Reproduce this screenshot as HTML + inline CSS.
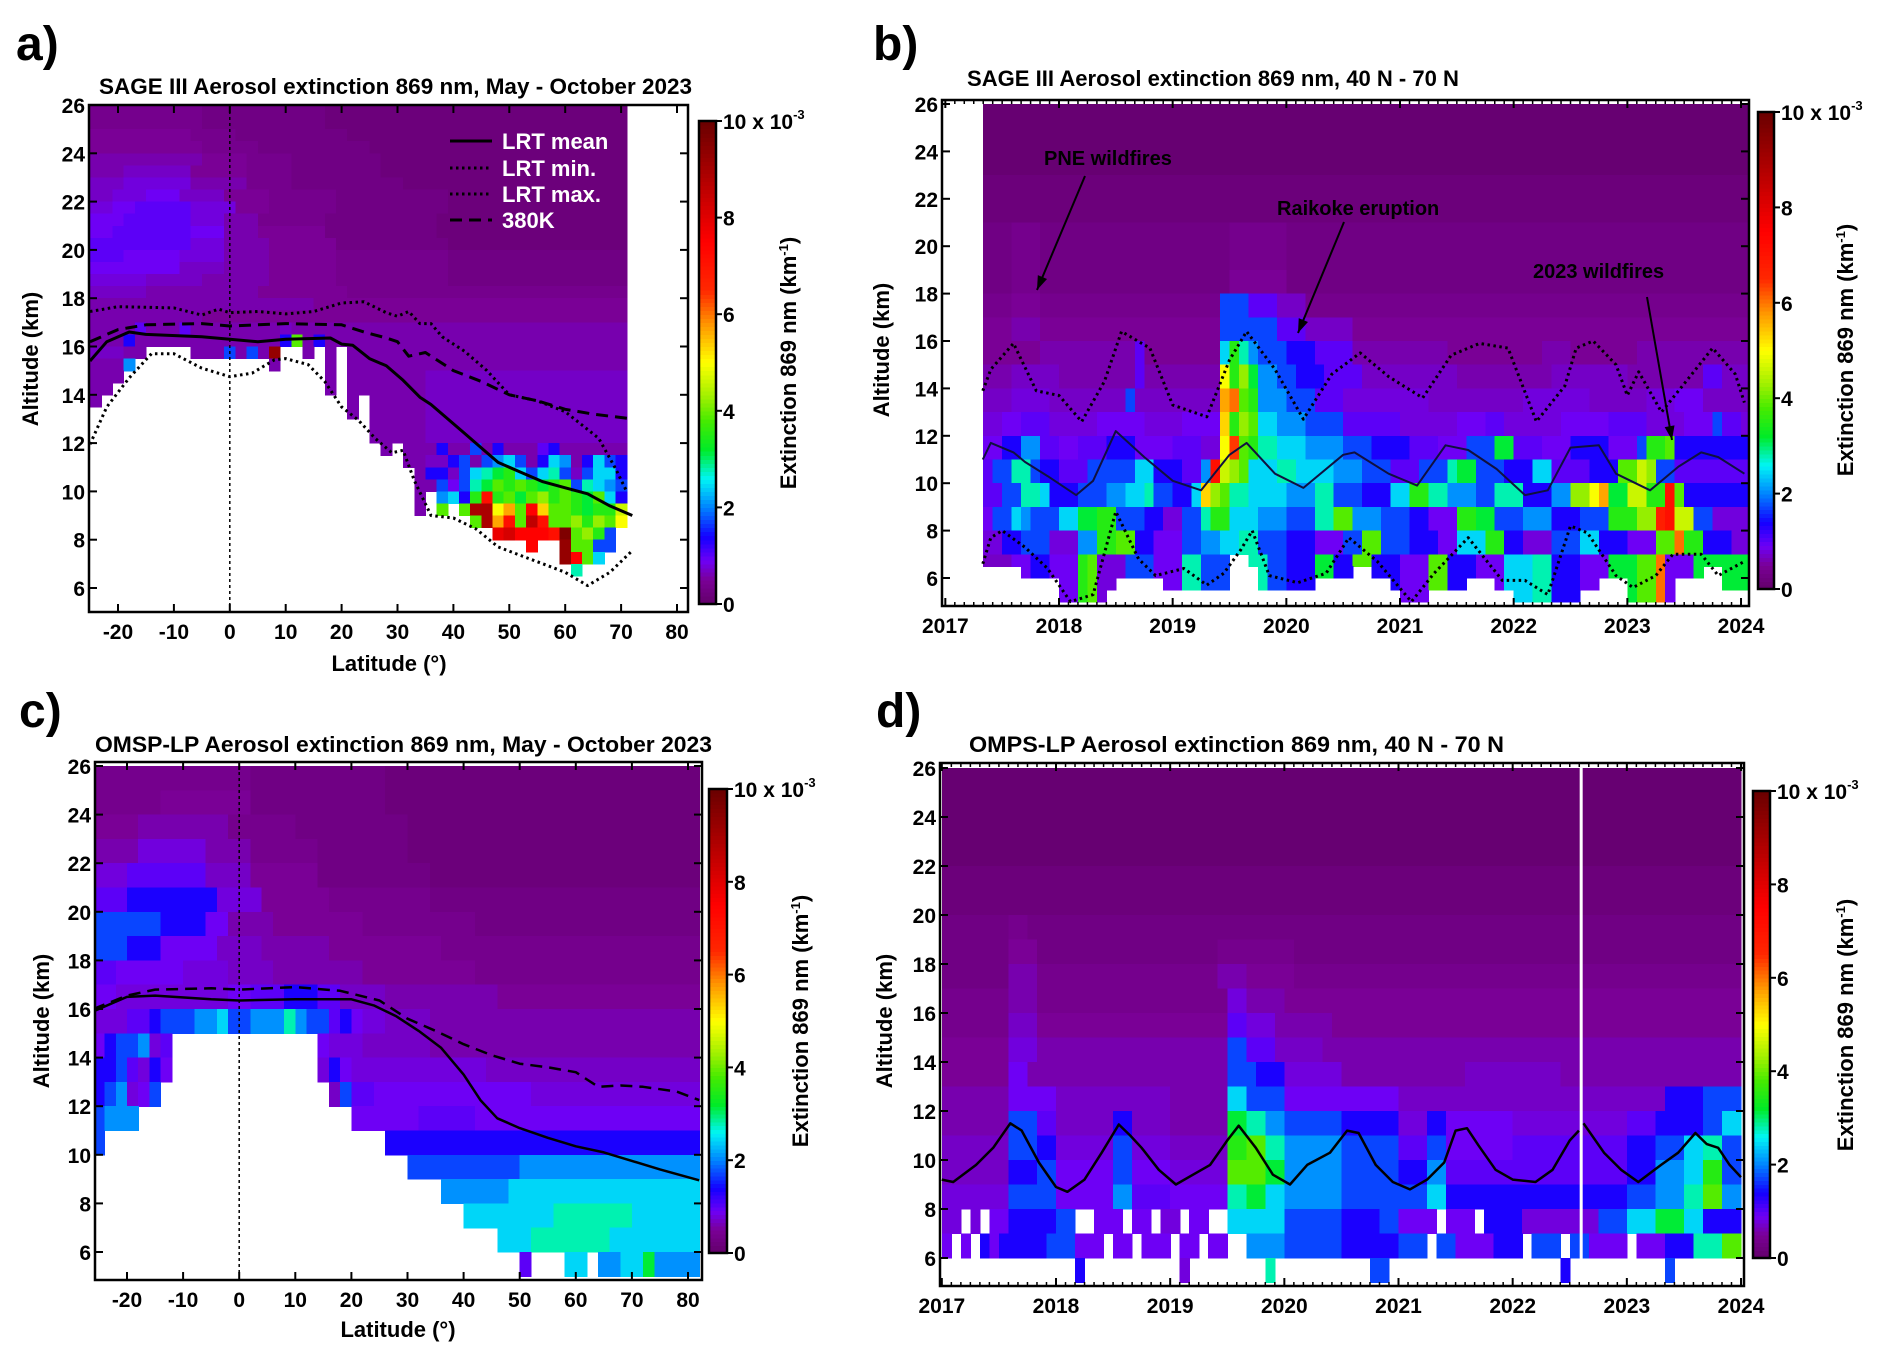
<!DOCTYPE html>
<html><head><meta charset="utf-8"><title>Aerosol extinction panels</title>
<style>
html,body{margin:0;padding:0;background:#fff;}
svg{display:block;font-family:"Liberation Sans",Arial,sans-serif;font-weight:bold;}
</style></head>
<body>
<svg id="fig" width="1892" height="1360" viewBox="0 0 1892 1360" xmlns="http://www.w3.org/2000/svg">
<defs>
<clipPath id="clipA"><rect x="89" y="105" width="599" height="507"/></clipPath>
<clipPath id="clipB"><rect x="942" y="100" width="807" height="506"/></clipPath>
<clipPath id="clipC"><rect x="95" y="762" width="607" height="518"/></clipPath>
<clipPath id="clipD"><rect x="940" y="763" width="804" height="523"/></clipPath>
</defs>
<text x="16" y="60" font-size="48">a)</text>
<text x="873" y="60" font-size="48">b)</text>
<text x="19" y="727" font-size="48">c)</text>
<text x="876" y="727" font-size="48">d)</text>
<text x="99" y="94" font-size="22" textLength="593" lengthAdjust="spacingAndGlyphs">SAGE III Aerosol extinction 869 nm, May - October 2023</text>
<text x="967" y="86" font-size="22" textLength="492" lengthAdjust="spacingAndGlyphs">SAGE III Aerosol extinction 869 nm, 40 N - 70 N</text>
<text x="95" y="752" font-size="22" textLength="617" lengthAdjust="spacingAndGlyphs">OMSP-LP Aerosol extinction 869 nm, May - October 2023</text>
<text x="969" y="752" font-size="22" textLength="535" lengthAdjust="spacingAndGlyphs">OMPS-LP Aerosol extinction 869 nm, 40 N - 70 N</text>
<text transform="translate(38,359) rotate(-90)" text-anchor="middle" font-size="22">Altitude (km)</text>
<text transform="translate(889,350) rotate(-90)" text-anchor="middle" font-size="22">Altitude (km)</text>
<text transform="translate(49,1021) rotate(-90)" text-anchor="middle" font-size="22">Altitude (km)</text>
<text transform="translate(892,1021) rotate(-90)" text-anchor="middle" font-size="22">Altitude (km)</text>
<text x="389" y="671" text-anchor="middle" font-size="22">Latitude (°)</text>
<text x="398" y="1337" text-anchor="middle" font-size="22">Latitude (°)</text>
<text transform="translate(796,363) rotate(-90)" text-anchor="middle" font-size="22">Extinction 869 nm (km<tspan font-size="13" dy="-8">-1</tspan><tspan dy="8">)</tspan></text>
<text transform="translate(1853,350) rotate(-90)" text-anchor="middle" font-size="22">Extinction 869 nm (km<tspan font-size="13" dy="-8">-1</tspan><tspan dy="8">)</tspan></text>
<text transform="translate(808,1021) rotate(-90)" text-anchor="middle" font-size="22">Extinction 869 nm (km<tspan font-size="13" dy="-8">-1</tspan><tspan dy="8">)</tspan></text>
<text transform="translate(1853,1025) rotate(-90)" text-anchor="middle" font-size="22">Extinction 869 nm (km<tspan font-size="13" dy="-8">-1</tspan><tspan dy="8">)</tspan></text>
<g id="layer"></g>
</svg>
<script>
// ---------- DATA ----------
// value key: '.'=no data, digits 0-9 => 0.0-0.9, letters a..z => 1.0..10 (x1e-3 km-1)
const rowsA = [
"4*10 3*11 2*27","4*10 3*11 2*27","5*9 4*4 3*10 2*25","5*10 4*5 3*10 2*23",
"6*10 5*4 4*4 3*8 2*22","6*3 7*6 5*5 4*4 3*8 2*22","7*3 8*6 6*5 4*4 3*10 2*20",
"7*2 8*3 9*3 7*4 5*4 4*6 3*10 2*16","8*2 9*2 a*5 8*4 5*3 4*6 3*10 2*16",
"9*3 a*6 8*3 6*3 4*6 3*10 2*17","9*2 a*7 9*3 6*3 5*6 3*10 2*17","a*3 a*6 8*3 6*4 5*6 3*10 2*16",
"a*3 9*5 8*4 6*4 5*6 4*10 3*16","9*4 9*4 7*4 6*4 5*6 4*10 3*16","8*5 7*5 6*6 5*6 4*10 3*16",
"7*5 6*10 5*8 4*25","6*20 5*28","6*10 5*38","6*4 a 6*3 a 6*8 7 6*30",
"6*3 b 6*13 b i 6 b 6*27","7*3 6*9 c 6 c 6 x 6*31","6*3 d 6*44",
"6*30 7*18","6*30 7*18","6*30 7*18","6*30 7*18","6*30 7*18","6*30 7*18",
"6*31 b 6*2 c 6 b 6*3 a b 6*6",
"6*30 7 7 b c 6 c d e c 6 b e d 6 b e c b",
"6*30 b b 7 c e f g h e c e f c 7 c e e b",
"6*30 6 c 9 c f g i h i h g h i c f e d c",
"6*30 6 d e b h r h i g i j h i h g i e b",
"6*30 g i . i w w l n i s m i i h g h h k",
"6*30 . . k . i w n r i v r i i j h j i l",
"6*30 . . . . . i t u s s s r y i j h c .",
"6*30 . . . . . . . . j s . . x i i c c .",
"6*30 . . . . . . . . . . i . x s i e i .",
"6*30 . . . . . . . . . . . . . f . . . .",
".*48",".*48",".*48"];
const bottomA = [13.5,14,14.5,15,15.5,16,16,16,16,15.5,15.5,15.5,15.5,15.5,15.5,15.5,15,16,16,15.5,16,14,16,13,14,12,11.5,12,11,9,10,9,9.5,9,8.5,8.5,8,8,8,7,7.5,7,7,6.5,7,7,7.5,8];
const lrtMeanLatA = [-25,-22,-18,-15,-5,0,5,10,18,20,22,25,28,31,34,36,38,40,42,45,48,52,56,60,64,68,72];
const lrtMeanA = [15.4,16.2,16.6,16.5,16.4,16.3,16.2,16.3,16.35,16.1,16.05,15.5,15.2,14.6,13.9,13.6,13.2,12.8,12.4,11.8,11.2,10.8,10.4,10.15,9.9,9.4,9.0];
const k380LatA = [-25,-20,-15,-5,0,10,20,24,28,30,32,35,40,45,50,55,60,65,72];
const k380A = [16.2,16.7,16.9,16.95,16.85,16.95,16.9,16.6,16.35,16.2,15.6,15.75,15.0,14.55,14.0,13.75,13.4,13.2,13.0];
const lrtMaxLatA = [-25,-20,-10,-5,-2,0,5,10,15,20,24,28,30,32,34,36,38,42,46,50,55,60,63,66,69,71];
const lrtMaxA = [17.45,17.65,17.6,17.3,17.55,17.4,17.45,17.35,17.45,17.8,17.85,17.4,17.25,17.45,16.95,16.95,16.4,15.8,15.0,14.0,13.75,13.3,12.75,12.2,10.95,10.0];
const lrtMinLatA = [-25,-22,-18,-14,-10,-5,0,4,8,10,14,17,20,23,26,29,31,33,36,40,44,48,52,56,60,64,68,72];
const lrtMinA = [11.95,13.5,14.7,15.7,15.7,15.1,14.75,14.9,15.45,15.5,15.25,14.55,13.5,12.95,12.2,11.6,11.7,10.45,9.0,8.9,8.45,7.7,7.35,7.0,6.65,6.1,6.65,7.55];

const rowsB = [
"1*81","1*81","1*81","1*81","1*81","1*81","2*81","2*81","2*81","2*81",
"3*3 4*3 3*20 4*6 3*49","3*3 4*3 3*20 4*6 3*49","3*3 4*3 3*20 4*6 3*49","3*3 4*3 3*20 4*6 3*49",
"3*3 4*3 3*20 5*6 3*49","3*3 4*3 3*20 5*6 3*49",
"4*3 5*3 4*19 c*3 a*3 7*3 4*47","4*3 5*3 4*19 c*3 a*3 7*3 4*47",
"5*3 6*3 5*19 c*3 c*3 a*3 7*5 5*42","5*3 6*3 5*19 c*3 c*3 a*3 7*5 5*42",
"5*6 6*10 a 5*8 e h f d c*3 b*3 a*4 6*10 5*10 6*3 5*7 6*12",
"5*6 6*10 a 5*8 e h f d c*3 b*3 a*4 6*10 5*10 6*3 5*7 6*12",
"6*3 7*5 6*8 a 6*8 l h j g d*2 c*2 b*3 a*4 7*10 6*10 7*8 6*8 a*2 7*3",
"6*3 7*5 6*8 a 6*8 l h j g d*2 c*2 b*3 a*4 7*10 6*10 7*8 6*8 a*2 7*3",
"7*3 8*4 7*8 c 7*9 n o i h d*3 c*3 a*3 8*9 7*10 8*7 7*6 8*3 9*3 7*5",
"7*3 8*4 7*8 c 7*9 n o i h d*3 c*3 a*3 8*9 7*10 8*7 7*6 8*3 9*3 7*5",
"8*2 9*2 a*3 8*5 9*5 8*4 9*4 m h j i e*2 d*3 c*4 a*6 8*6 9*3 a*2 8*6 9*5 a*4 8*4 9*3 c a*2 8",
"8*2 9*2 a*3 8*5 9*5 8*4 9*4 m h j i e*2 d*3 c*4 a*6 8*6 9*3 a*2 8*6 9*5 a*4 8*4 9*3 c a*2 8",
"9*2 b*2 d*2 a*2 9*2 a*3 b*3 9*4 a*3 8*2 l p i h f*2 e*3 d*4 c*3 b*4 a*3 9*3 c*3 g*2 a*3 9*3 b*4 9*3 c h*2 i b",
"9*2 b*2 d*2 a*2 9*2 a*3 b*3 9*4 a*3 8*2 l p i h f*2 e*3 d*4 c*3 b*4 a*3 9*3 c*3 g*2 a*3 9*3 b*4 9*3 c h*2 i b",
"a c*2 f*2 c b*2 a*3 c*2 c*3 e*2 b*3 a*2 d r k j i e*3 f*2 e*4 d*3 c*3 a*3 c*3 f g*2 c*3 b*3 e*2 a*4 b*3 i*2 k j c*2 a*4",
"a c*2 f*2 c b*2 a*3 c*2 c*3 e*2 b*3 a*2 d r k j i e*3 f*2 e*4 d*3 c*3 a*3 c*3 f g*2 c*3 b*3 e*2 a*4 b*3 i*2 k j c*2 a*4",
"a*2 c*2 f*2 e b*3 c*3 d*2 e*2 f c*2 b*2 e m j i f*2 e*4 d*3 f*2 c*3 b*3 e*2 h*2 f*2 d*3 c*2 f*3 b*3 d*2 j*2 l n g*2 k*2 h*2 r i b*3",
"a*2 c*2 f*2 e b*3 c*3 d*2 e*2 f c*2 b*2 e m j i f*2 e*4 d*3 f*2 c*3 b*3 e*2 h*2 f*2 d*3 c*2 f*3 b*3 d*2 j*2 l n g*2 k*2 h*2 r i b*3",
"9 c*2 e d c*3 e*2 g*2 h*2 c*3 b*2 8*2 c*2 f h*2 e*3 d*3 c*3 f*2 i*2 d*3 c*3 b*2 9*3 h*2 g*2 c*3 d*3 b*3 c*3 h*3 j*2 q r k*2 c*2 8*2",
"9 c*2 e d c*3 e*2 g*2 h*2 c*3 b*2 8*2 c*2 f h*2 e*3 d*3 c*3 f*2 i*2 d*3 c*3 b*2 9*3 h*2 g*2 c*3 d*3 b*3 c*3 h*3 j*2 q r k*2 c*2 8*2",
"8*2 b*2 c*3 8*3 d*2 h*2 i*2 b*2 9*3 c*2 d*2 e*2 f*2 c*3 b*3 9*3 c*2 i*2 c*3 b*3 9*2 e*3 h*2 b*2 8*3 c*3 e*2 b*3 9*3 i*2 o h*2 b*3 8*3",
"8*2 b*2 c*3 8*3 d*2 h*2 i*2 b*2 9*3 c*2 d*2 e*2 f*2 c*3 b*3 9*3 c*2 i*2 c*3 b*3 9*2 e*3 h*2 b*2 8*3 c*3 e*2 b*3 9*3 i*2 o h*2 b*3 8*3",
"7*3 9*2 b*2 9*3 h i 8*3 c*3 9*3 f*2 c*3 e*2 f*2 c*2 b*3 g*2 b*2 i*2 b*3 9*3 i*2 b*3 9*3 e*3 f*2 b*3 9*3 g*3 i*2 o 9*3 g*2",
"7*3 9*2 b*2 9*3 h i 8*3 c*3 9*3 f*2 c*3 e*2 f*2 c*2 b*3 g*2 b*2 i*2 b*3 9*3 i*2 b*3 9*3 e*3 f*2 b*3 9*3 g*3 i*2 o 9*3 g*2",
"7*3 9*2 b*2 9*3 h i 8*3 c*3 9*3 f*2 c*3 e*2 f*2 c*2 b*3 g*2 b*2 i*2 b*3 9*3 i*2 b*3 9*3 e*3 f*2 b*3 9*3 g*3 i*2 o 9*3 g*2",
"7*3 9*2 b*2 9*3 h i 8*3 c*3 9*3 f*2 c*3 e*2 f*2 c*2 b*3 g*2 b*2 i*2 b*3 9*3 i*2 b*3 9*3 e*3 f*2 b*3 9*3 g*3 i*2 o 9*3 g*2"];
const bottomB = [6.5,6.5,6.5,6.5,6,6,6,6,5,5,5,5,5,5.5,6,6,6,6,6,5.5,5.5,5.5,5.5,5.5,5.5,5.5,7,7,6.5,5.5,5.5,5.5,5.5,5.5,5.5,6,6,6,6,6.5,6.5,6,6,5.5,5,5,5,5.5,5.5,5.5,5.5,6,6,6,5.5,5.5,5,5,5,5,5,5,5,5.5,5.5,6,6,6,5,5,5,5,5,6,6,6,6.5,6.5,5.5,5.5,5.5];
const meanTimeB = [2017.33,2017.4,2017.6,2017.7,2017.9,2018.15,2018.3,2018.5,2018.75,2019.0,2019.25,2019.5,2019.65,2019.9,2020.15,2020.5,2020.6,2020.9,2021.15,2021.4,2021.6,2021.85,2022.1,2022.3,2022.5,2022.75,2022.9,2023.2,2023.45,2023.65,2023.8,2024.03];
const meanB = [11.0,11.7,11.3,10.9,10.3,9.5,10.1,12.2,11.1,10.1,9.7,11.2,11.7,10.4,9.8,11.2,11.3,10.4,9.9,11.6,11.4,10.6,9.5,9.7,11.5,11.6,10.4,9.7,10.7,11.3,11.1,10.4];
const maxTimeB = [2017.33,2017.4,2017.6,2017.8,2018.0,2018.2,2018.4,2018.55,2018.8,2019.0,2019.3,2019.5,2019.65,2019.9,2020.15,2020.4,2020.65,2020.9,2021.2,2021.45,2021.7,2021.95,2022.2,2022.45,2022.55,2022.7,2022.9,2023.0,2023.1,2023.3,2023.55,2023.75,2023.95,2024.03];
const maxB = [13.9,14.8,15.9,13.9,13.7,12.6,14.3,16.4,15.7,13.3,12.8,15.2,16.4,14.8,12.7,14.6,15.5,14.5,13.6,15.4,15.9,15.7,12.6,14.1,15.7,16.0,15.0,13.7,14.7,13.0,14.5,15.7,14.6,13.4];
const minTimeB = [2017.33,2017.4,2017.5,2017.7,2017.9,2018.1,2018.3,2018.5,2018.7,2018.85,2019.1,2019.3,2019.45,2019.6,2019.7,2019.85,2020.1,2020.35,2020.55,2020.8,2021.1,2021.3,2021.5,2021.6,2021.9,2022.1,2022.3,2022.5,2022.65,2022.9,2023.05,2023.25,2023.4,2023.65,2023.8,2024.03];
const minB = [6.6,7.7,8.0,7.3,6.4,5.0,5.3,8.8,6.8,6.1,6.4,5.7,6.2,7.2,8.0,6.1,5.8,6.2,7.7,6.7,5.0,6.2,7.2,7.7,5.9,5.9,5.3,8.2,7.9,6.1,5.6,6.1,7.0,7.0,6.1,6.7];

const rowsC = [
"4*14 3*12 2*28","4*6 5*8 3*12 2*28","5*4 6*8 4*6 3*10 2*26","6*4 8*6 6*4 4*6 3*8 2*26",
"8*3 a*7 7*4 5*6 3*10 2*24","a*3 b*8 8*4 5*6 4*9 3*24","c*6 b*4 9*2 6*4 5*8 4*10 3*20",
"c*3 b*3 9*5 7*4 6*6 5*10 4*23","a*2 9*6 8*4 7*4 6*8 5*10 4*20",
"9*2 8*10 9*2 a*3 b*3 a*2 7*4 6*10 5*18",
"8*3 a*2 b c*3 d*2 e c*2 d*3 f d c*2 a b 9 8*2 7*4 6*8 6*16",
"9 b c c d 8 a 6*12 9*2 8*3 7*6 6*8 6*16",
"b b c a 8 b 9 6*12 c 8 b 9 8*4 8*8 7*6 7*14",
"b c d 8 9 c 9 6*12 9*2 7 c a*2 9*4 9*10 8*10 8*5",
"c d*3 a 6*14 7*2 c 9 9*2 9*4 a*5 9*6 9*6 9*8",
"c 6*16 9*2 8 b*2 b*5 b*6 b*6 b*7 b*8",
"6*21 8 c f c c*2 c*4 c*3 c*4 d*4 d*4 d*3 d*3 d*3",
"6*23 f c d*2 d*3 d*4 d*3 e*4 e*4 e*3 e*3 e*3",
"6*25 c e d*3 e*4 e*3 e*4 f*4 f*3 e*3 e*3",
"6*27 f h d . g d e*3 e*3 f*4 f*3 e*3 e*3 e*2",
"6*38 a 6*3 e e 6 d d e e g d d d d"];
const bottomC = [10,11,11,11,12,12,13,15,15,15,15,15,15,15,15,15,15,15,15,15,13,12,12,11,11,11,10,10,9,9,9,8,8,7,7,7,6,6,5,6,6,6,5,5,6,5,5,5,5,5,5,5,5,5];
const meanLatC = [-26,-20,-15,-5,0,10,15,20,24,28,32,36,40,43,46,50,55,60,65,70,75,82];
const meanC = [15.9,16.5,16.55,16.4,16.35,16.4,16.4,16.4,16.15,15.7,15.1,14.4,13.3,12.25,11.5,11.1,10.7,10.35,10.1,9.75,9.4,8.95];
const k380LatC = [-26,-20,-15,-5,0,10,18,25,30,35,40,45,50,55,60,62,64,68,72,78,82];
const k380C = [16.0,16.55,16.8,16.85,16.8,16.9,16.75,16.35,15.6,15.1,14.55,14.1,13.75,13.6,13.4,13.1,12.8,12.85,12.8,12.6,12.25];

const rowsD = [
"1*84","1*84","1*84","1*84","2*84","2*84",
"3*7 4*2 3*75","3*7 5*3 3*19 4*8 3*47","3*7 6*3 4*19 6*3 5*5 4*47",
"4*7 6*3 4*20 8*2 6*4 5*48","4*7 7*3 5*20 a*2 8*3 6*6 5*43",
"5*7 8*3 6*20 c*2 a*3 7*5 6*44","5*7 9*2 6*21 c*3 b*3 8*6 6*13 7*10 6*19",
"6*7 9*5 7*12 6*6 e*2 c*4 9*12 7*12 7*12 7*4 b*4 c*4",
"6*7 c*3 a*2 7*6 b*2 7*4 6*6 g*2 f*2 d*2 c*6 b*6 8*3 b*2 9*7 8*12 a*3 b*5 c*2 e*2",
"7*7 c*3 b*2 8*6 c*2 8*4 7*6 h*2 i*2 f*2 d*6 c*6 a*3 c*2 9*7 a*12 b*3 c*3 e*2 f*2 c*2",
"7*7 b*3 c*2 9*6 c*2 9*4 8*6 i*2 i*2 g*2 d*6 c*6 b*3 d*2 a*7 a*12 b*3 d*3 e*2 h*2 c*2",
"8*7 c*3 c*2 9*6 d*2 a*4 9*6 f*2 g*2 e*2 d*6 c*6 c*3 e*2 b*7 b*12 c*3 d*3 f*2 i*2 d*2",
"8*2 . 8 . 9*2 b*5 c*2 .*2 9*3 . 9*2 . 8*2 . 9*2 .*2 e*6 c*6 b*4 c*2 9*4 . 9*3 . b*4 8*8 c*3 e*3 g*3 e*2 b*2",
"9 . 9 . b 9 b*5 c*3 9*3 . 9*2 . 9*3 . 9*2 . 9*2 .*2 d*4 c*6 b*6 c*3 . c*2 9*4 b*3 . c*3 . c*2 9*4 . 9*3 b*3 f*3 i*2 c*2",
".*14 b .*10 8 .*8 f .*10 c*2 .*18 b .*10 c .*8"];
const meanTimeD = [2017.0,2017.1,2017.3,2017.45,2017.6,2017.7,2017.85,2018.0,2018.1,2018.25,2018.4,2018.55,2018.65,2018.75,2018.9,2019.05,2019.2,2019.35,2019.5,2019.6,2019.75,2019.9,2020.05,2020.2,2020.4,2020.55,2020.65,2020.8,2020.95,2021.1,2021.25,2021.4,2021.5,2021.6,2021.7,2021.85,2022.0,2022.2,2022.35,2022.5,2022.58];
const meanD = [9.2,9.1,9.8,10.5,11.5,11.2,9.9,8.9,8.7,9.2,10.3,11.45,11.0,10.5,9.6,9.0,9.4,9.8,10.8,11.4,10.5,9.4,9.0,9.8,10.3,11.2,11.1,9.8,9.1,8.8,9.2,9.9,11.2,11.3,10.6,9.6,9.2,9.1,9.6,10.8,11.2];
const meanTimeD2 = [2022.62,2022.8,2022.95,2023.1,2023.3,2023.45,2023.6,2023.7,2023.8,2023.9,2024.0];
const meanD2 = [11.5,10.3,9.6,9.1,9.8,10.3,11.1,10.65,10.5,9.8,9.3];

const latTicks = [-20,-10,0,10,20,30,40,50,60,70,80];
const altTicks = [6,8,10,12,14,16,18,20,22,24,26];
const yearTicks = [2017,2018,2019,2020,2021,2022,2023,2024];
const cbarTicks = [0,2,4,6,8,10];

// ---------- AXES ----------
const xA = lat => 118 + (lat + 20) * 5.59;
const yA = km => 105 + (26 - km) * 24.15;
const xB = t => 1059 + (t - 2018) * 113.67;
const yB = km => 104 + (26 - km) * 23.7;
const xC = lat => 127 + (lat + 20) * 5.61;
const yC = km => 766 + (26 - km) * 24.3;
const xD = t => 1056 + (t - 2018) * 114.17;
const yD = km => 768 + (26 - km) * 24.5;

// ---------- HELPERS ----------
const NS = "http://www.w3.org/2000/svg";
const layer = document.getElementById('layer');
function mk(tag, attrs, parent) {
  const e = document.createElementNS(NS, tag);
  for (const k in attrs) e.setAttribute(k, attrs[k]);
  (parent || layer).appendChild(e);
  return e;
}
function decode(s, n) {
  const out = [];
  s.trim().split(/\s+/).forEach(t => {
    if (t.indexOf('*') > 0) { const p = t.split('*'); for (let i = 0; i < +p[1]; i++) out.push(p[0]); }
    else for (const ch of t) out.push(ch);
  });
  while (out.length < n) out.push(out[out.length - 1]);
  return out.slice(0, n);
}
function val(ch) {
  if (ch === '.') return null;
  if (ch >= '0' && ch <= '9') return (+ch) / 10;
  return 1 + (ch.charCodeAt(0) - 97) * 0.36;
}
const STOPS = [[0,[98,0,105]],[0.5,[122,0,150]],[0.9,[110,0,245]],[1.4,[20,0,255]],[2.0,[0,130,255]],[2.6,[0,245,245]],[3.2,[0,235,40]],[3.8,[70,235,0]],[4.3,[160,240,0]],[5.0,[255,255,0]],[5.8,[255,150,0]],[6.5,[255,40,0]],[7.5,[255,0,0]],[8.6,[190,0,0]],[10,[105,0,0]]];
function color(v) {
  if (v <= 0) v = 0; if (v >= 10) v = 10;
  for (let i = 1; i < STOPS.length; i++) {
    if (v <= STOPS[i][0]) {
      const a = STOPS[i-1], b = STOPS[i], f = (v - a[0]) / (b[0] - a[0]);
      const c = a[1].map((x, k) => Math.round(x + (b[1][k] - x) * f));
      return `rgb(${c[0]},${c[1]},${c[2]})`;
    }
  }
  return 'rgb(105,0,0)';
}

function heat(rows, n, xEdge, yf, rowH, bottoms, clip, name) {
  const g = mk('g', {'clip-path': `url(#${clip})`, 'shape-rendering': 'crispEdges'});
  
  
  rows.forEach((rs, r) => {
    const cells = decode(rs, n);
    const top = 26 - r * rowH, bot = top - rowH;
    cells.forEach((ch, i) => {
      const v = val(ch);
      if (v === null) return;
      if (bottoms && bot < bottoms[i] - 1e-6) return;
      const x0 = xEdge(i), x1 = xEdge(i + 1), y0 = yf(top), y1 = yf(bot);
      const rc = mk('rect', {x: x0.toFixed(1), y: y0.toFixed(1), width: (x1 - x0 + 0.6).toFixed(1), height: (y1 - y0 + 0.6).toFixed(1), fill: color(v)}, g);
      
      
    });
  });
}

function line(xs, ys, xf, yf, style, clip, name) {
  const pts = xs.map((x, i) => xf(x).toFixed(1) + ',' + yf(ys[i]).toFixed(1)).join(' ');
  const a = {points: pts, fill: 'none', stroke: style.c || '#000', 'stroke-width': style.w || 2.5, 'stroke-linejoin': 'round'};
  if (style.d) a['stroke-dasharray'] = style.d;
  if (clip) a['clip-path'] = `url(#${clip})`;
  const p = mk('polyline', a);
  
  
}

function label(x, y, s, anchor, name, size) {
  const t = mk('text', {x: x, y: y, 'text-anchor': anchor, 'font-size': size || 21});
  t.textContent = s;
  
  
  return t;
}

function frame(x, y, w, h, name) {
  const f = mk('rect', {x: x, y: y, width: w, height: h, fill: 'none', stroke: '#000', 'stroke-width': 2.5});
  
  
}
function tick(x1, y1, x2, y2, name, w) {
  const l = mk('line', {x1: x1, y1: y1, x2: x2, y2: y2, stroke: '#000', 'stroke-width': w || 2});
  
  
}

function yAxis(yf, L, R, name) {
  altTicks.forEach(v => {
    tick(L, yf(v), L + 8, yf(v), name + '-tick');
    tick(R, yf(v), R - 8, yf(v), name + '-tick');
    label(L - 4, yf(v) + 8, String(v), 'end', name + '-label');
  });
}
function latAxis(xf, T, B, name) {
  latTicks.forEach(v => {
    tick(xf(v), B, xf(v), B - 8, name + '-tick');
    tick(xf(v), T, xf(v), T + 8, name + '-tick');
    label(xf(v), B + 27, String(v), 'middle', name + '-label');
  });
}
function yearAxis(xf, T, B, name) {
  yearTicks.forEach(v => {
    tick(xf(v), B, xf(v), B - 8, name + '-tick');
    tick(xf(v), T, xf(v), T + 8, name + '-tick');
    label(xf(v), B + 27, String(v), 'middle', name + '-label');
  });
  for (let y = 2017; y < 2024; y++) for (let m = 1; m < 12; m++) {
    const x = xf(y + m / 12);
    tick(x, B, x, B - 4, name + '-minor-tick', 1.5);
    tick(x, T, x, T + 4, name + '-minor-tick', 1.5);
  }
}
function colorbar(x, top, bot, w, name) {
  const g = mk('g', {'shape-rendering': 'crispEdges'});
  
  
  const N = 120;
  for (let i = 0; i < N; i++) {
    const v = (i + 0.5) / N * 10;
    const y1 = bot - (i + 1) / N * (bot - top);
    const rc = mk('rect', {x: x, y: y1.toFixed(1), width: w, height: ((bot - top) / N + 0.7).toFixed(2), fill: color(v)}, g);
    
    
  }
  frame(x, top, w, bot - top, name + '-frame');
  cbarTicks.forEach(v => {
    const y = bot - v / 10 * (bot - top);
    tick(x + w, y, x + w + 6, y, name + '-tick');
    const t = label(x + w + 7, y + 8, String(v), 'start', name + '-label', 21);
    if (v === 10) {
      t.textContent = '10 x 10';
      const sp = mk('tspan', {'font-size': 13, dy: -10}, t);
      sp.textContent = '-3';
      
      
    }
  });
}
function arrow(x1, y1, x2, y2, name) {
  tick(x1, y1, x2, y2, name, 2);
  const ang = Math.atan2(y2 - y1, x2 - x1), L = 14, W = 5;
  const bx = x2 - L * Math.cos(ang), by = y2 - L * Math.sin(ang);
  const px = -Math.sin(ang) * W, py = Math.cos(ang) * W;
  const p = mk('polygon', {points: `${x2},${y2} ${bx + px},${by + py} ${bx - px},${by - py}`, fill: '#000'});
  
  
}

// ---------- PANEL A ----------
heat(rowsA, 48, i => xA(-25 + 2 * i), yA, 0.5, bottomA, 'clipA', 'heatmap-a');
line([0, 0], [26, 5], xA, yA, {w: 1.5, d: '3,3'}, 'clipA', 'equator-line-a');
line(lrtMaxLatA, lrtMaxA, xA, yA, {w: 3, d: '2.5,3.5'}, 'clipA', 'lrt-max-line-a');
line(lrtMinLatA, lrtMinA, xA, yA, {w: 3, d: '2.5,3.5'}, 'clipA', 'lrt-min-line-a');
line(k380LatA, k380A, xA, yA, {w: 3, d: '12,7'}, 'clipA', 'k380-line-a');
line(lrtMeanLatA, lrtMeanA, xA, yA, {w: 3}, 'clipA', 'lrt-mean-line-a');
frame(89, 105, 599, 507, 'plot-frame-a');
yAxis(yA, 89, 688, 'y-axis-a');
latAxis(xA, 105, 612, 'x-axis-a');
colorbar(699, 121, 604, 17, 'colorbar-a');
[['LRT mean', 141, null], ['LRT min.', 168, '2.5,3.5'], ['LRT max.', 194, '2.5,3.5'], ['380K', 220, '12,7']].forEach(e => {
  const a = {x1: 450, y1: e[1], x2: 492, y2: e[1], stroke: '#000', 'stroke-width': 3};
  if (e[2]) a['stroke-dasharray'] = e[2];
  const l = mk('line', a);
  
  
  const t = label(502, e[1] + 8, e[0], 'start', 'legend-entry', 22);
  t.setAttribute('fill', '#fff');
});

// ---------- PANEL B ----------
heat(rowsB, 81, j => xB(2017 + 4 / 12 + j / 12), yB, 0.5, bottomB, 'clipB', 'heatmap-b');
line(maxTimeB, maxB, xB, yB, {w: 3, d: '2.5,3.5'}, 'clipB', 'lrt-max-line-b');
line(minTimeB, minB, xB, yB, {w: 3, d: '2.5,3.5'}, 'clipB', 'lrt-min-line-b');
line(meanTimeB, meanB, xB, yB, {w: 2, c: '#101040'}, 'clipB', 'lrt-mean-line-b');
frame(942, 100, 807, 506, 'plot-frame-b');
yAxis(yB, 942, 1749, 'y-axis-b');
yearAxis(xB, 100, 606, 'x-axis-b');
colorbar(1758, 112, 589, 16, 'colorbar-b');
label(1044, 165, 'PNE wildfires', 'start', 'annotation-pne', 20);
arrow(1085, 176, 1037, 290, 'annotation-arrow-pne');
label(1277, 215, 'Raikoke eruption', 'start', 'annotation-raikoke', 20);
arrow(1344, 222, 1298, 333, 'annotation-arrow-raikoke');
label(1533, 278, '2023 wildfires', 'start', 'annotation-2023', 20);
arrow(1647, 297, 1672, 440, 'annotation-arrow-2023');

// ---------- PANEL C ----------
heat(rowsC, 54, i => xC(-26 + 2 * i), yC, 1, bottomC, 'clipC', 'heatmap-c');
line([0, 0], [26, 5], xC, yC, {w: 1.5, d: '3,3'}, 'clipC', 'equator-line-c');
line(k380LatC, k380C, xC, yC, {w: 2.5, d: '12,7'}, 'clipC', 'k380-line-c');
line(meanLatC, meanC, xC, yC, {w: 2.5}, 'clipC', 'lrt-mean-line-c');
frame(95, 762, 607, 518, 'plot-frame-c');
yAxis(yC, 95, 702, 'y-axis-c');
latAxis(xC, 762, 1280, 'x-axis-c');
colorbar(709, 789, 1253, 18, 'colorbar-c');

// ---------- PANEL D ----------
heat(rowsD, 84, j => xD(2017 + j / 12), yD, 1, null, 'clipD', 'heatmap-d');
const gap = mk('rect', {x: xD(2022.6) - 1.5, y: 763, width: 3, height: 523, fill: '#fff'});


line(meanTimeD, meanD, xD, yD, {w: 2.5}, 'clipD', 'lrt-mean-line-d');
line(meanTimeD2, meanD2, xD, yD, {w: 2.5}, 'clipD', 'lrt-mean-line-d-2');
frame(940, 763, 804, 523, 'plot-frame-d');
yAxis(yD, 940, 1744, 'y-axis-d');
yearAxis(xD, 763, 1286, 'x-axis-d');
colorbar(1753, 791, 1258, 17, 'colorbar-d');
</script>
</body></html>
